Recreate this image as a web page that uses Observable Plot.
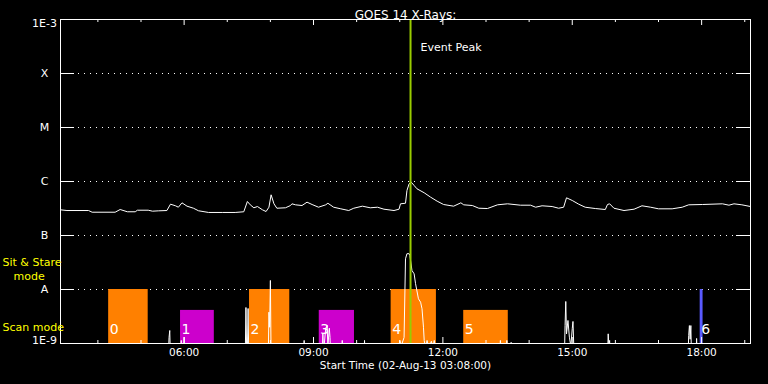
<!DOCTYPE html>
<html><head><meta charset="utf-8">
<script src="https://cdn.jsdelivr.net/npm/d3@7"></script>
<script src="https://cdn.jsdelivr.net/npm/@observablehq/plot@0.6"></script>
<style>html,body{margin:0;padding:0;background:#000;}</style>
</head><body><div id="chart"></div>
<script>
const day = "2013-08-02";
const startTime = "03:08";
const endTime = "19:08";
const titleText = "GOES 14 X-Rays:";
const captionText = "Start Time (02-Aug-13 03:08:00)";

// Long channel (1-8 Å) flux, W/m^2
const longTime = ["03:08","03:17","03:47","03:52","04:24","04:31","04:41","04:52","04:55","05:10","05:16","05:24","05:36","05:41","05:48","05:52","05:57","06:04","06:13","06:20","06:34","06:53","07:11","07:23","07:28","07:32","07:37","07:42","07:49","07:54","07:58","08:01","08:05","08:09","08:21","08:28","08:30","08:35","08:44","08:51","08:58","09:07","09:17","09:20","09:28","09:38","09:49","09:56","10:08","10:19","10:29","10:38","10:52","10:59","11:01","11:08","11:10","11:13","11:16","11:20","11:24","11:34","11:43","11:52","12:01","12:15","12:25","12:29","12:41","12:50","13:02","13:16","13:30","13:48","14:02","14:09","14:18","14:32","14:41","14:48","14:52","15:00","15:09","15:18","15:32","15:46","15:49","15:52","15:58","16:12","16:26","16:37","16:49","17:00","17:19","17:33","17:42","18:01","18:29","18:38","18:45","18:56","19:08"];
const longFlux = [2.99e-7,2.90e-7,2.90e-7,2.70e-7,2.70e-7,3.03e-7,2.75e-7,2.75e-7,2.94e-7,2.94e-7,2.82e-7,2.86e-7,2.90e-7,3.80e-7,3.55e-7,3.34e-7,4.03e-7,3.49e-7,3.20e-7,2.87e-7,2.67e-7,2.67e-7,2.67e-7,2.75e-7,4.26e-7,3.70e-7,3.26e-7,3.44e-7,2.99e-7,2.78e-7,3.34e-7,5.67e-7,3.86e-7,3.20e-7,3.26e-7,3.59e-7,3.86e-7,3.70e-7,3.59e-7,4.14e-7,3.75e-7,3.34e-7,3.70e-7,3.96e-7,3.34e-7,3.12e-7,2.90e-7,3.20e-7,3.49e-7,3.26e-7,3.34e-7,3.07e-7,2.90e-7,3.07e-7,3.86e-7,3.96e-7,6.81e-7,9.06e-7,9.70e-7,8.43e-7,7.32e-7,6.18e-7,5.12e-7,4.32e-7,3.75e-7,3.49e-7,4.03e-7,3.70e-7,3.59e-7,3.20e-7,3.16e-7,3.70e-7,3.86e-7,3.64e-7,3.64e-7,3.34e-7,3.55e-7,3.44e-7,3.20e-7,3.34e-7,4.99e-7,4.45e-7,3.80e-7,3.34e-7,3.16e-7,3.03e-7,3.75e-7,3.86e-7,3.20e-7,2.90e-7,3.07e-7,3.55e-7,3.34e-7,3.12e-7,3.12e-7,3.34e-7,3.70e-7,3.75e-7,3.86e-7,3.64e-7,3.86e-7,3.70e-7,3.44e-7];

// Short channel (0.5-4 Å) flux, W/m^2 (mostly below 1E-9)
const shortTime = ["03:08","05:38","05:39","05:40","05:41","05:55","05:56","05:57","05:59","06:00","06:01","07:25","07:26","07:27","07:28","07:29","07:30","07:57","07:58","07:59","08:00","08:01","08:02","08:46","08:47","08:48","09:12","09:13","09:14","09:17","09:19","09:20","09:22","09:23","09:24","09:39","09:40","09:41","10:10","10:11","10:12","10:59","11:00","11:02","11:06","11:08","11:10","11:13","11:14","11:17","11:20","11:22","11:26","11:29","11:31","11:33","11:34","11:36","11:38","11:40","11:44","11:46","11:48","11:50","13:19","13:20","13:21","13:28","13:29","13:30","13:34","13:35","13:36","14:49","14:50","14:51","14:52","14:54","14:56","14:58","15:00","15:01","15:02","15:03","15:49","15:50","15:51","15:52","15:53","17:41","17:42","17:43","17:44","17:45","17:46","17:52","17:53","17:54","19:08"];
const shortFlux = [5e-10,5e-10,1.29e-9,1.74e-9,5e-10,5e-10,1.14e-9,6e-10,6e-10,1.31e-9,5e-10,5e-10,4.64e-9,7e-10,7e-10,4.45e-9,5e-10,5e-10,3.80e-9,2.0e-9,1.47e-8,6e-10,5e-10,5e-10,1.14e-9,5e-10,5e-10,1.53e-9,7e-10,1.9e-9,2.15e-9,9e-10,1.92e-9,1.3e-9,5e-10,5e-10,1.14e-9,5e-10,5e-10,1.14e-9,5e-10,5e-10,1.14e-9,9e-10,1.29e-9,3.7e-8,4.6e-8,4.6e-8,4.3e-8,2.25e-8,1.95e-8,1.28e-8,6.73e-9,5.82e-9,4.39e-9,2.0e-9,1.14e-9,8e-10,1.14e-9,8e-10,1.1e-9,8e-10,1.14e-9,5e-10,5e-10,1.14e-9,5e-10,5e-10,1.14e-9,5e-10,5e-10,1.05e-9,5e-10,5e-10,2.15e-9,6.0e-9,1.5e-9,2.67e-9,1.31e-9,9e-10,1.90e-9,2.56e-9,1.0e-9,5e-10,5e-10,1.51e-9,9e-10,1.14e-9,5e-10,5e-10,1.41e-9,2.15e-9,1.2e-9,2.15e-9,5e-10,5e-10,1.24e-9,5e-10,5e-10];

// Observation blocks
const barLabel = ["0","1","2","3","4","5","6"];
const barStart = ["04:15","05:55","07:31","09:08","10:48","12:29","17:58"];
const barEnd   = ["05:10","06:42","08:27","09:57","11:51","13:31","18:02"];
const barMode  = ["Sit & Stare","Scan","Sit & Stare","Scan","Sit & Stare","Scan","Sit & Stare"];
const barGroup = ["a","b","a","b","a","a","c"];
const modeNames = ["Sit & Stare","Scan"];
const modeTop = [1e-8, 4.1e-9];

const eventPeak = "11:15";
const eventLabel = "Event Peak";

const yTickValues = [1e-9,1e-8,1e-7,1e-6,1e-5,1e-4,1e-3];
const yTickLabels = ["1E-9","A","B","C","M","X","1E-3"];
const hourTicks = ["04:00","05:00","06:00","07:00","08:00","09:00","10:00","11:00","12:00","13:00","14:00","15:00","16:00","17:00","18:00","19:00"];
const labelHours = ["06:00","09:00","12:00","15:00","18:00"];

const T = s => new Date(`${day}T${s}:00Z`);
const longData = longTime.map((t, i) => ({t: T(t), v: longFlux[i]}));
const shortData = shortTime.map((t, i) => ({t: T(t), v: shortFlux[i]}));
const bars = barLabel.map((l, i) => ({
  label: l, x1: T(barStart[i]), x2: T(barEnd[i]),
  top: modeTop[modeNames.indexOf(barMode[i])], group: barGroup[i]
}));
const minorHours = hourTicks.filter(h => !labelHours.includes(h)).map(T);
const majorHours = labelHours.map(T);
const yTicks = yTickValues.map((v, i) => ({v, label: yTickLabels[i]}));
const gridVals = yTickValues.slice(1, -1);

const white = "white";
const fh = 324, fw = 690;

const chart = Plot.plot({
  width: 768, height: 384,
  marginLeft: 60, marginRight: 18, marginTop: 19, marginBottom: 41,
  x: {type: "utc", domain: [T(startTime), T(endTime)], axis: null},
  y: {type: "log", domain: [1e-9, 1e-3], axis: null},
  color: {type: "ordinal", domain: ["a","b","c"], range: ["#ff8000","#cc00cc","#5a5aff"]},
  style: {background: "black", color: "white", fontFamily: "DejaVu Sans"},
  marks: [
    Plot.ruleY(gridVals, {y: d => d, insetLeft: 18, insetRight: 14, stroke: white, strokeDasharray: "1,5"}),
    Plot.rectY(bars, {x1: "x1", x2: "x2", y1: 1e-9, y2: "top", fill: "group"}),
    Plot.line(longData, {x: "t", y: "v", stroke: white, strokeWidth: 1, clip: true}),
    Plot.line(shortData, {x: "t", y: "v", stroke: white, strokeWidth: 1, clip: true}),
    Plot.ruleX([T(eventPeak)], {x: d => d, stroke: "#99cc00", strokeWidth: 2}),
    Plot.frame({stroke: white}),
    Plot.ruleX(minorHours, {x: d => d, insetTop: fh - 3, stroke: white}),
    Plot.ruleX(majorHours, {x: d => d, insetTop: fh - 6, stroke: white}),
    Plot.ruleX(minorHours, {x: d => d, insetBottom: fh - 3, stroke: white}),
    Plot.ruleX(majorHours, {x: d => d, insetBottom: fh - 6, stroke: white}),
    Plot.ruleY(yTickValues, {y: d => d, insetRight: fw - 14, stroke: white}),
    Plot.ruleY(yTickValues, {y: d => d, insetLeft: fw - 14, stroke: white}),
    Plot.text(yTicks.slice(1, -1), {y: "v", text: "label", frameAnchor: "left", dx: -16, textAnchor: "middle", fontSize: 11, fill: white}),
    Plot.text(yTicks.slice(-1), {y: "v", text: "label", frameAnchor: "left", dx: -16, dy: 4, textAnchor: "middle", fontSize: 11, fill: white}),
    Plot.text(yTicks.slice(0, 1), {y: "v", text: "label", frameAnchor: "left", dx: -16, dy: -3, textAnchor: "middle", fontSize: 11, fill: white}),
    Plot.text(labelHours, {x: d => T(d), text: d => d, frameAnchor: "bottom", dy: 12, fontSize: 10.5, fill: white}),
    Plot.text([captionText], {frameAnchor: "bottom", dy: 25.5, fontSize: 10.5, fill: white}),
    Plot.text([titleText], {frameAnchor: "top", dy: -9.5, fontSize: 12, fill: white}),
    Plot.text([eventLabel], {x: () => T(eventPeak), frameAnchor: "top", dy: 24, dx: 10, textAnchor: "start", fontSize: 11, fill: white}),
    Plot.text(bars, {x: "x1", text: "label", frameAnchor: "bottom", dy: -9.5, dx: 1, textAnchor: "start", fontSize: 14, fill: white}),
    Plot.text(["Sit & Stare"], {frameAnchor: "top-left", dx: -58, dy: 239, textAnchor: "start", fontSize: 11, fill: "yellow"}),
    Plot.text(["mode"], {frameAnchor: "top-left", dx: -47, dy: 253, textAnchor: "start", fontSize: 11, fill: "yellow"}),
    Plot.text(["Scan mode"], {frameAnchor: "top-left", dx: -58, dy: 304, textAnchor: "start", fontSize: 11, fill: "yellow"})
  ]
});
document.getElementById("chart").appendChild(chart);
</script>
</body></html>
